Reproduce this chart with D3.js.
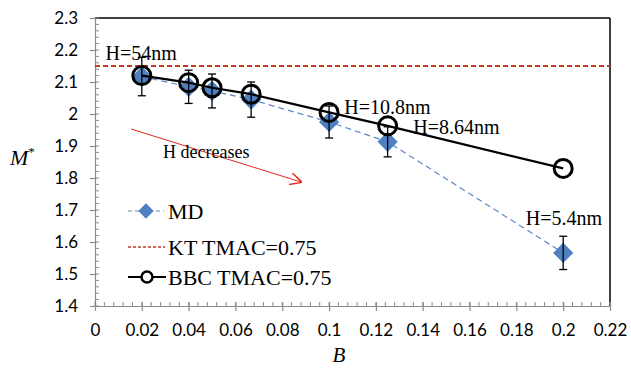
<!DOCTYPE html>
<html><head><meta charset="utf-8">
<script src="https://cdn.jsdelivr.net/npm/d3@7"></script>
<style>body{margin:0;background:#fff}svg{display:block}</style>
</head><body>
<script>
const bValues = [0.02, 0.04, 0.05, 0.0667, 0.1, 0.125, 0.2];
const mdValues = [2.117, 2.085, 2.072, 2.045, 1.975, 1.913, 1.566];
const mdErrors = [0.06, 0.052, 0.053, 0.055, 0.05, 0.047, 0.052];
const bbcValues = [2.12, 2.098, 2.082, 2.062, 2.005, 1.963, 1.83];
const ktValue = 2.15;
const xTicks = [0, 0.02, 0.04, 0.06, 0.08, 0.1, 0.12, 0.14, 0.16, 0.18, 0.2, 0.22];
const yTicks = [1.4, 1.5, 1.6, 1.7, 1.8, 1.9, 2, 2.1, 2.2, 2.3];
const annotations = [
  {text: "H=54nm", b: 0.0045, m: 2.17},
  {text: "H=10.8nm", b: 0.1065, m: 2.0},
  {text: "H=8.64nm", b: 0.136, m: 1.937},
  {text: "H=5.4nm", b: 0.184, m: 1.653}
];

const W = 631, H = 368;
const serif = "'Liberation Serif', 'Times New Roman', serif";
const svg = d3.select("body").append("svg").attr("width", W).attr("height", H);
const x = d3.scaleLinear().domain([0, 0.22]).range([95, 610]);
const y = d3.scaleLinear().domain([1.4, 2.3]).range([306, 18]);
const gray = "#8c8c8c";

// frame top & right
svg.append("line").attr("x1", x(0)).attr("x2", x(0.22)).attr("y1", y(2.3)).attr("y2", y(2.3)).attr("stroke", "#000").attr("stroke-width", 1.5);
svg.append("line").attr("x1", x(0.22)).attr("x2", x(0.22)).attr("y1", y(2.3)).attr("y2", y(1.4)).attr("stroke", "#000").attr("stroke-width", 1.5);

// minor ticks
const xMinor = d3.range(0, 0.2201, 0.004);
svg.append("g").selectAll("line").data(xMinor).join("line")
  .attr("x1", d => x(d)).attr("x2", d => x(d)).attr("y1", y(1.4)).attr("y2", y(1.4) - 4)
  .attr("stroke", gray).attr("stroke-width", 1);
const yMinor = d3.range(1.4, 2.3001, 0.02);
svg.append("g").selectAll("line").data(yMinor).join("line")
  .attr("x1", x(0)).attr("x2", x(0) + 4).attr("y1", d => y(d)).attr("y2", d => y(d))
  .attr("stroke", gray).attr("stroke-width", 1);

// axes
const xAxis = svg.append("g").attr("transform", `translate(0,${y(1.4)})`)
  .call(d3.axisBottom(x).tickValues(xTicks).tickSize(5).tickSizeOuter(0).tickPadding(13)
    .tickFormat(d => d3.format("~g")(d)));
const yAxis = svg.append("g").attr("transform", `translate(${x(0)},0)`)
  .call(d3.axisLeft(y).tickValues(yTicks).tickSize(5).tickSizeOuter(0).tickPadding(12)
    .tickFormat(d => d3.format("~g")(d)));
[xAxis, yAxis].forEach(g => {
  g.select(".domain").attr("stroke", gray).attr("stroke-width", 1.2);
  g.selectAll(".tick line").attr("stroke", gray).attr("stroke-width", 1.2);
  g.selectAll("text").attr("font-family", "Lato, 'Open Sans', sans-serif").attr("font-size", 17).attr("fill", "#000");
});
xAxis.selectAll(".tick line").attr("y1", -4);

// KT line
svg.append("line").attr("x1", x(0)).attr("x2", x(0.22)).attr("y1", y(ktValue)).attr("y2", y(ktValue))
  .attr("stroke", "#c0392b").attr("stroke-width", 2).attr("stroke-dasharray", "5,3");

const md = bValues.map((b, i) => ({b, m: mdValues[i], e: mdErrors[i]}));
const bbc = bValues.map((b, i) => ({b, m: bbcValues[i]}));

// MD dashed line
svg.append("path").datum(md)
  .attr("d", d3.line().x(d => x(d.b)).y(d => y(d.m)))
  .attr("fill", "none").attr("stroke", "#5b86c5").attr("stroke-width", 1.2).attr("stroke-dasharray", "6,4");

// diamonds
const diamond = d3.symbol().type(d3.symbolDiamond2).size(260);
svg.append("g").selectAll("path").data(md).join("path")
  .attr("d", diamond).attr("transform", d => `translate(${x(d.b)},${y(d.m)})`)
  .attr("fill", "#4f7fc1");

// BBC line
svg.append("path").datum(bbc)
  .attr("d", d3.line().x(d => x(d.b)).y(d => y(d.m)))
  .attr("fill", "none").attr("stroke", "#000").attr("stroke-width", 2.2);

// error bars
const eb = svg.append("g").attr("stroke", "#000").attr("stroke-width", 1.3);
md.forEach(d => {
  const cx = x(d.b);
  eb.append("line").attr("x1", cx).attr("x2", cx).attr("y1", y(d.m + d.e)).attr("y2", y(d.m - d.e));
  eb.append("line").attr("x1", cx - 4).attr("x2", cx + 4).attr("y1", y(d.m + d.e)).attr("y2", y(d.m + d.e));
  eb.append("line").attr("x1", cx - 4).attr("x2", cx + 4).attr("y1", y(d.m - d.e)).attr("y2", y(d.m - d.e));
});

// circles
svg.append("g").selectAll("circle").data(bbc).join("circle")
  .attr("cx", d => x(d.b)).attr("cy", d => y(d.m)).attr("r", 9)
  .attr("fill", "none").attr("stroke", "#000").attr("stroke-width", 3);

// annotations
svg.append("g").selectAll("text").data(annotations).join("text")
  .attr("x", d => x(d.b)).attr("y", d => y(d.m))
  .attr("font-family", serif).attr("font-size", 20)
  .text(d => d.text);

// H decreases arrow
svg.append("defs").append("marker").attr("id", "ah").attr("viewBox", "0 0 10 10")
  .attr("refX", 9).attr("refY", 5).attr("markerWidth", 12).attr("markerHeight", 12).attr("orient", "auto")
  .attr("markerUnits", "userSpaceOnUse")
  .append("path").attr("d", "M0,0 L10,5 L0,10").attr("fill", "none").attr("stroke", "#e8281c").attr("stroke-width", 1.2);
svg.append("line").attr("x1", 131).attr("y1", 129).attr("x2", 301).attr("y2", 182)
  .attr("stroke", "#e8281c").attr("stroke-width", 1).attr("marker-end", "url(#ah)");
svg.append("text").attr("x", 163).attr("y", 158)
  .attr("font-family", serif).attr("font-size", 18).text("H decreases");

// legend
const lg = svg.append("g").attr("font-family", serif).attr("font-size", 22);
lg.append("line").attr("x1", 128).attr("x2", 164).attr("y1", 211).attr("y2", 211)
  .attr("stroke", "#5b86c5").attr("stroke-width", 1.2).attr("stroke-dasharray", "4,3");
lg.append("path").attr("d", diamond.size(150)()).attr("transform", "translate(146,211)").attr("fill", "#4f7fc1");
lg.append("text").attr("x", 168).attr("y", 219).text("MD");
lg.append("line").attr("x1", 128).attr("x2", 165).attr("y1", 247).attr("y2", 247)
  .attr("stroke", "#c0392b").attr("stroke-width", 1.5).attr("stroke-dasharray", "3,2");
lg.append("text").attr("x", 168).attr("y", 255).text("KT TMAC=0.75");
lg.append("line").attr("x1", 128).attr("x2", 166).attr("y1", 277).attr("y2", 277)
  .attr("stroke", "#000").attr("stroke-width", 2.2);
lg.append("circle").attr("cx", 147).attr("cy", 277).attr("r", 5.5).attr("fill", "#fff").attr("stroke", "#000").attr("stroke-width", 2.5);
lg.append("text").attr("x", 168).attr("y", 285).text("BBC TMAC=0.75");

// axis titles
svg.append("text").attr("x", 10).attr("y", 165)
  .attr("font-family", serif).attr("font-size", 22).attr("font-style", "italic")
  .text("M").append("tspan").attr("font-size", 13).attr("dy", -9).attr("font-style", "normal").text("*");
svg.append("text").attr("x", 339).attr("y", 362).attr("text-anchor", "middle")
  .attr("font-family", serif).attr("font-size", 21).attr("font-style", "italic").text("B");
</script>
</body></html>
